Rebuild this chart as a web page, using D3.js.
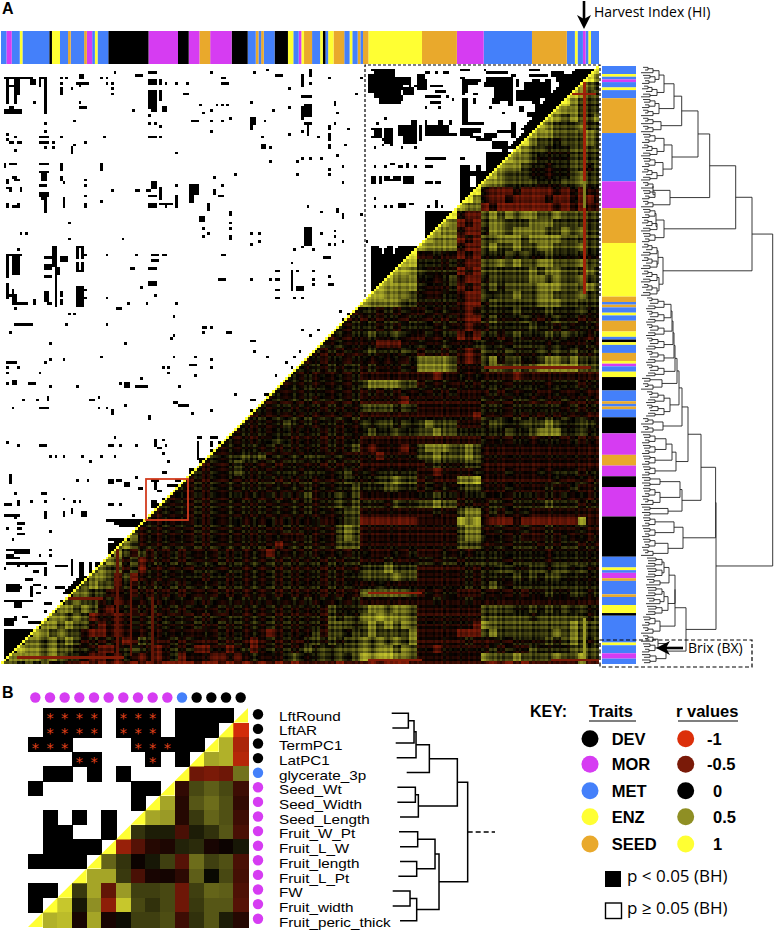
<!DOCTYPE html>
<html>
<head>
<meta charset="utf-8">
<script src="https://cdn.jsdelivr.net/npm/d3@7"></script>
<style>
  html, body { margin: 0; padding: 0; background: #fff; }
  svg { display: block; }
  text { font-family: "Open Sans", sans-serif; fill: #000; }
  .bold { font-family: "Liberation Sans", sans-serif; font-weight: bold; }
</style>
</head>
<body>
<script>
// trait classes along the clustered order, top to bottom of the side bar
var traitRuns = [
    ["MET",3],["ENZ",1],["MET",1],["MOR",1],["MET",2],["ENZ",1],["MET",3],["SEED",13],["MET",18],["MOR",10],
    ["SEED",13],["ENZ",20],["SEED",2],["MET",1],["SEED",1],["MET",2],["ENZ",1],["MET",2],["SEED",4],["ENZ",2],
    ["MET",1],["DEV",1],["ENZ",1],["MET",3],["SEED",3],["ENZ",1],["MOR",1],["MET",2],["ENZ",2],["DEV",5],
    ["MET",4],["SEED",1],["MET",1],["SEED",1],["MET",3],["DEV",6],["MOR",8],["SEED",4],["MOR",4],["DEV",4],
    ["MOR",11],["DEV",15],["MET",4],["ENZ",1],["MET",1],["MOR",2],["SEED",1],["MET",5],["SEED",1],["MET",3],
    ["ENZ",3],["DEV",1],["MET",10],["ENZ",1],["MET",3],["MOR",2],["MET",2]
];

// r values, one string per 3 rows, right aligned, digit 0..8 looked up in heatLevels
// groups after the first: ENZ, SEED, MOR, MET, SEED, mixed columns
var heatLevels = [-1,-.75,-.42,-.15,0,.15,.36,.55,.8];
var heatRows = [
    "8","86","765","7655","8 6555","76 6555","765 6556","7655 5655","76655 5565",
    "8 65545 5565","76 55444 5555","766 54444 5555","7665 44344 5545","76555 44344 5655","766555 54445 5655",
    "8 322232 22232 3233","86 322322 22322 3223","766 232222 22232 3233",
    "8 322 565656 65565 5555","76 232 566555 66655 5555","766 322 466566 66556 5655","7666 232 556665 66665 5555","76666 322 565565 56655 5655",
    "8 33433 232 444545 44544 4444","77 44434 322 556565 56655 5655","776 54444 232 555555 65665 5565","7666 44345 322 455555 66565 5655",
    "76666 43334 232 454555 56665 5565","776665 43344 322 545565 56655 5655","7666655 44444 322 455555 56665 5555",
    "3 4434343 34343 323 444454 44544 4544",
    "34 3434434 43434 322 454445 43454 4344",
    "434 4434344 44343 323 344444 54434 3443",
    "3434 4544543 34344 232 443454 44545 4434",
    "43433 3322233 43343 334 434344 44343 3343",
    "434343 4544454 34434 323 544544 45454 5445",
    "3434434 4343434 66665 323 564554 45665 6555",
    "43434344 3433343 66665 333 455454 56666 6555",
    "434343434 3333333 33233 434 333323 33333 3333",
    "3434343434 5666655 34343 343 444344 44344 4344",
    "43434443434 3434343 43434 333 343434 43343 3433",
    "343434343434 3333323 33333 333 434344 34334 3343",
    "4344343434343 5555454 33333 333 444344 44443 4344",
    "34343434343434 3333333 33333 332 434343 43434 3433",
    "434345434344343 5455454 56555 333 455445 55654 4554",
    "3434344343434343 4544544 55655 444 444544 56664 4544",
    "43434454343434344 3333333 33333 333 434344 34443 4343",
    "343443434343434345 3233323 56665 565 333333 33333 3333",
    "4344545343434443433 3323333 55655 565 333333 33333 3333",
    "34345443434443434344 3333333 34544 455 333333 33333 3333",
    "434345434344434443453 4344444 33233 334 333433 34344 4344",
    "3434343434434344343454 4455655 34333 667 333333 33343 3434",
    "43434343434343434343445 4445544 34343 455 333433 33433 4334",
    "343434344343434345344545 3333333 44544 344 434344 43434 3434",
    "4343434343434343434344545 4443544 55655 343 344344 44544 4344",
    "34343434343434343434343455 3333333 33433 566 343434 33333 3333",
    "434343434344343434343433455 2222222 33333 767 322232 22222 2733",
    "3434343434343434334343343565 3333333 33333 566 334334 33433 3433",
    "63434343434343434343334343565 3333333 33333 566 434343 33434 3434",
    "653434343434343434323434343555 3333333 33333 555 334344 43434 4343",
    "6535343434343434343243434343434 4333434 33343 434 444444 44344 4444",
    "65352343434343434343434343434344 3334333 44344 344 444344 44344 4444",
    "655352434343444344343434343434343 5556555 33333 343 445544 55455 4544",
    "6652523434344434434343434343434344 5555655 33333 343 444454 54554 4444",
    "56552434343434343434343434343434343 3343333 33333 343 454344 44444 4444",
    "665533434343434343434343434343434343 6666665 34344 333 434343 44544 5545",
    "5655342343434343434343434343434343434 3333333 33433 343 333333 33333 3333",
    "66565323434343434343434343434343435444 5665665 33333 333 555544 54545 4544",
    "665652332343434343434344343434343435454 6676665 33333 333 555555 45555 5545",
    "6656553232343434343433434343434343435554 5656565 33333 332 655555 55555 6555",
    "76565532232343434343343434343234343535545 5655556 33333 222 565555 55565 6555",
    "665656534343235433434333434323434334545455 6565656 33333 343 334344 44545 6545",
    "7665655443223454323434223323423434345454555 6566565 33233 333 343433 54444 5555",
    "66665654432232432323423332232343334543454545 7677665 33333 333 655565 55565 5755",
    "665656453323232323232222322323232323233333233 3232223 33333 333 323232 33333 3733"
];

// row and column deviations from the block value, digit 4 = none
var rowGrain = "4635472536 3746254637 5263746354 4725364635 3546274635 6253746254 4637254736 5364627354 3746354625 4635274636 5264736254 3746254635 6354726354 2746354625 4635374625 3645274635 5263746354 4736254637 2546375264 6354725364 4635274736 3546263746 462";
var colGrain = "4546354635 3546253746 5364736452 4635274635 6351726453 3725362714 4635473625 5364527364 3645273546 6253746354 4736254637 3546375264 5263746253 4637254736 3546374625 5374625364 4635273645 3746253647 5264736254 4637354625 3546274635 6354725361 462";

// single lines that stand out: col, row, width, height, r
var heatStreaks = [
    [217,5,1,38,-.7],[217,43,1,10,.45],[217,53,1,32,-.7],[217,206,1,16,.55],[212,10,10,1,-.65],
    [43,180,1,40,-.4],[48,190,1,30,-.4],[56,198,1,25,-.4],
    [137,196,20,1,-.6],[137,221,20,1,-.55],[205,221,18,1,-.5],[180,112,40,1,-.5],
    [20,198,18,1,-.45],[6,220,40,1,-.55]
];

// black cells p < 0.05: col, row, width, height (1 by default)
var sigRects = [
    [42,2],[50,3,3],[55,2,3],[78,2],[82,4,2],[82,6,3],[94,2],[99,1],[102,3,3],[112,3,1,5],
    [22,4],[24,4],[22,6],[29,3,2,2],[28,6,5],[29,7],[26,8],[22,8,1,3],[37,4],[39,4],[39,6],[41,6],[41,8],[41,10],
    [1,4,11],[11,5,2,2],[2,5,1,9],[5,5,2,6],[3,7,2],[5,11,1,3],[14,4,3],[16,4,1,14],[14,5,1,3],[12,13],
    [16,15],[16,17],[1,16,7,2],[3,15,2],[29,15,3],[29,13],[49,16],
    [55,5,3,2],[59,5,1,2],[61,6],[65,6],[69,6],[68,10,2],[55,9,3,7],[59,9,1,4],[60,15,2,2],[56,15,2,2],[55,18],
    [74,14],[75,17],[78,16],[80,14],[82,14],[84,14],[71,20,3],[78,20],[82,20],[85,19],[78,24],
    [93,13],[93,19,2,3],[93,22,1,2],[98,20],[101,16],[107,15],[107,8],[107,25],[112,15,1,5],[112,24],
    [27,20],[16,21],[55,21],[57,21],[59,22],[2,25],[2,27],[3,28],[5,26],[6,28,2],[4,28],[5,31],
    [16,24],[14,26,4],[14,28,4],[16,30],[19,30],[19,28],[22,26],[27,29],[31,28],[26,30,1,3],[38,26],
    [55,26,3],[59,26],[65,32],[97,26],[97,29,2,2],[100,30],[100,35],[110,35],[112,34],[110,40],[87,40],
    [1,36,1,2],[3,36,3],[14,36,4],[22,36,1,3],[37,36,1,3],[14,39,4],[15,40,2,3],[22,41,1,2],[23,43],[31,42],[31,44],
    [2,42,1,2],[4,41,2],[5,42,2],[3,45,1,2],[7,45,1,2],[2,45],[14,44,3],[14,47,4,2],[15,49,2],[16,50,1,5],
    [23,49,1,4],[31,48],[31,51,1,2],[37,50],[2,51,1,2],[4,52,3],[6,51],
    [41,46],[50,46,2],[54,46,2],[56,43,2,3],[55,48,3],[59,45,1,5],[55,51,3,2],[59,51,5],[61,52],[65,48,1,5],[65,44],
    [70,44,4,4],[70,48,2,3],[79,41],[82,44],[79,46,1,2],[81,48,2],[77,51,1,3],[74,56,2,2],[85,54,1,2],[85,58],[85,60],
    [75,60],[75,63],[77,62],[85,63,1,2],[25,58],[7,62],[9,62],[25,64],[45,64],[93,62],[96,62],[96,65],[93,66],
    [6,68],[2,70,6],[2,70,1,9],[4,71,3,7],[2,81,1,6],[3,85,2],[4,83,1,2],[4,85,2,4],[6,88,4],[12,87,1,2],
    [19,67,2,8],[16,71,4],[22,71,3,2],[16,74,3,2],[20,75,2,3],[16,78,3],[20,78,1,12],[16,84,2,4],[17,88,2],[22,84,1,2],[22,87,1,2],
    [28,67,3],[28,67,1,5],[30,67,1,5],[31,70],[28,73,1,3],[30,73,1,4],[28,76,3],[28,82,3,8],[31,83],[31,86],
    [39,70],[50,70],[48,75,2],[56,70,3],[60,70],[61,70],[56,72,3],[55,75,3],[82,70,2],[81,79,3],[55,80,3,2],[52,82],[57,85],
    [93,79],[100,79],[102,76,2],[102,79,2],[102,83,2],[102,86,2],[108,73],[109,68],[112,67],[108,76,1,8],[110,76],[110,82,3,2],[109,86],[112,86],
    [39,86],[47,88],[43,90,2],[54,88],[65,88],[64,93],[5,90],[25,92],[27,92],[6,96,6],[5,96],[24,96],[39,96],[3,99],
    [75,97,2],[78,97],[75,99],[84,99,2],[63,101],[93,102],[112,98],
    // box over the first three clusters
    [138,1,9],[139,2,8,2],[137,5,4,3],[141,4,9,5],[152,4,1,4],[155,3,3,6],[154,7,2],[139,9,6,3],[139,10,10],[141,12,8,2],
    [137,3,10,2],[137,8,12,2],[141,11,9,2],[148,4,5,3],[150,8,4,3],
    [158,2,2],[162,2],[165,2,2],[158,5,1,4],[160,7,5],[162,9,4],[158,11,6],[160,13,4],[166,11],[168,12],[158,15],[163,15],
    [171,1,4],[171,4,2],[172,5,6,2],[172,7,2,3],[178,5],[172,10],[176,10,2],[172,12,2,3],[176,12,1,2],[180,1],
    [181,2,8],[184,4,7,9],[180,6,10,2],[190,3,2],[183,12,3,2],[192,5,1,3],[189,12,2,3],[182,15],[187,17],
    [197,1,4],[197,3,7],[205,2,5,2],[198,5,3,9],[203,5,2,10],[207,3,6,3],[208,6,1,6],[210,7,2,2],[212,4,6,2],[204,14,3,4],[207,8,3,3],[211,10,2,6],
    [181,4,3,3],[195,6,3,7],[199,14,3,2],[192,9,3,4],[205,10,2,6],[214,6,3,3],[201,6,2,6],[193,15,2,2],[196,17,3,2],[204,19,3,2],[200,20,3,2],
    [140,21],[138,23,4],[139,24,3,3],[138,26],[142,27],[143,23,3,6],[148,22,5,4],[150,26,4,3],[153,20,2,9],[156,22,1,6],
    [139,30],[142,29],[145,29],[149,30],[154,30],[143,19],
    [158,22,9,4],[158,20,1,2],[163,20,2,2],[167,20,1,2],[167,25,3],
    [172,15,2,6],[172,21,8],[171,23,8,2],[171,25,5],[175,26,4],[177,27,6],[180,25,5,2],[183,28,6,3],[185,24,5],[190,21,2,6],[187,31,2,2],[184,33],
    [197,23,2,4],[195,26,2],[192,29,3],
    [139,37],[143,37],[145,36,2],[148,37,2],[151,36,1,2],[154,37],[158,34,2],[160,34,6],[158,37,3],[171,34,2],[171,37,4,2],[177,37,2,2],
    [138,41,2,3],[141,41,1,3],[143,41,2],[146,41,3,2],[150,41,4,3],[143,42,3],[158,43,3],[162,43,2],
    [139,49],[139,52],[143,52],[145,52],[148,51,3,2],[152,51,2],[159,52],[162,50,1,3],[164,52],
    [181,32,12,7],[171,39,4,14],[175,39,2,2],[175,45,2,8],[177,39,6,14],[158,54,12,12],
    [138,68,4,18],[142,70,15,16],[138,67,3],[144,67,2],[148,67,8],[143,68,3,2],[147,68,10,2],
    // columns left of the box
    [115,1,1,3],[122,4],[134,4],[115,6],[132,10],[112,11,4],[124,13,1,2],[125,17],[113,14,3,5],[112,18],
    [113,21,3],[114,22,1,4],[124,21],[122,22,1,2],[129,23],[118,26],[122,25,1,3],[122,29,1,2],[128,29],[115,34],[119,34],[125,33],
    [127,37],[122,38],[122,40],[127,43],[114,52],[119,54],[125,53,1,2],[127,55,1,2],[134,55],[113,60,3,7],[119,62],[124,61],[124,63],
    [122,66],[124,66],[127,65],[136,65],[116,68],[120,71,3],[116,76],[116,79],[116,81],[122,78],[122,81,2],
    [126,91],[129,92],[127,94],[126,96],[118,98],[115,100],[121,102],
    // lower half
    [18,103],[46,103],[64,100],[94,102],[94,106],[111,106],[37,108],[18,109],[23,109],[16,110],[2,110,4],[2,112],[6,112],[2,114],[14,114],
    [64,108],[72,108],[78,109],[70,111,3],[78,112],[60,112],[62,112],[62,114],[72,115],[99,108],[106,110],[109,108],[108,112],[111,112],[102,115],[108,115],
    [2,118],[4,117,2,2],[10,118,3],[18,119],[28,119],[44,118],[46,118,2,2],[50,119,5],[52,116],[66,119],[105,118],[103,120],
    [8,124],[13,124],[17,123,1,2],[33,124,2],[36,123],[87,122],[93,124,2],[98,122,3],[98,124],
    [4,127],[14,127,4],[36,127],[39,127],[46,126],[41,128,1,2],[64,125,2],[66,126,4],[71,129],[78,128],[55,130,1,2],[93,128,1,3],[89,133,2],[87,136],
    [2,140],[6,141],[14,141,3],[42,138],[40,141,2],[44,141],[50,141],[18,145],[20,145],[23,145],[30,145],[37,145],[33,147],[42,145],[62,147],
    [57,139,1,3],[58,142,2],[60,144],[60,139],[61,141],[60,151,2],[73,138,2],[73,140,1,6],[78,138,3],[78,140,1,2],[80,142],[78,143,2],[81,140,2,2],
    [73,146,4],[74,147,2,2],[70,150,3,3],[3,152,1,4],[28,154],[32,154],[50,153],[40,154,2,2],[43,154,2],[46,155,2,2],[51,157,2],[5,159],[15,159,2],
    // inside the red box
    [56,154,3],[57,155,1,3],[62,156,5],[58,158,2],[60,161,2],[62,160],[56,162,2],[56,163,4,2],[65,154,2],
    [1,163,3],[6,162,1,2],[11,162],[16,162],[23,161],[27,162],[29,162],[40,163,2],[44,163],[26,165,1,2],[49,167],[16,166,1,3],[23,166,1,2],[30,166,2,2],
    [1,167,6],[5,168],[6,170,3],[6,172,2],[2,172],[6,174,3],[39,169,14],[42,170,10],[44,171,8],[18,173],[4,176],
    [40,176,6],[42,177,3],[40,178,6,3],[40,181,3],[2,180,9],[5,181,6],[2,182,3],[8,181,3],[14,182],[18,180],[18,182],[2,183,5],[2,185,15],
    [20,186,5],[26,184,1,6],[29,185,2,6],[33,185,1,4],[35,185,2,2],[36,186,1,4],[36,185,3],[34,190],[16,187,1,3],[12,188,2],[9,191,3],[1,187],[6,186],[9,186],
    [2,193,5,3],[7,194],[11,194,1,4],[12,193,3],[13,196,2],[16,194],[20,194,4],[26,194,4],[26,195,3,3],
    [1,199,11],[5,200,3,2],[16,200,3],[22,199,1,2],[16,203],[20,203],
    [1,206,4,3],[5,205,1,2],[10,207,6],[8,205],[9,205],[1,210,6,2],[6,210,9,2],[1,212,10,10]
];

// rows next to the diagonal that are solid black: first row, last row, width
var sigDiagBands = [[1,18,7],[19,23,5],[24,30,3],[176,178,2],[190,196,3]];

// dendrogram of panel A, [merge height, upper, lower], a plain number is a leaf tip
var a2 = [12,4,6], a3 = [15,[10,5,7],3], a4 = [17,[12,5,6],[11,7,4]], a5 = [19,[14,[10,6,4],8],[12,5,3]];
var b3 = [22,[16,9,11],8], b4 = [24,[18,9,10],[17,10,8]], b5 = [26,[20,[14,9,11],12],[17,10,8]];
var treeMix = [26,[21,a3,a4],a5];
var treeTop = [114,
    [97.7,
        [71.7,
            [60,
                [43.7, [36,treeMix,[21,a4,a3]], [23,a3,a3]],
                [34,[26,a4,a5],[25,a4,a5]]],
            [32,[15,a3,a4],a3]],
        [26,[18,a4,a5],a4]],
    [25,[20,a5,a5],[21,a5,a5]]];
var treeLad = [37,[36,[35,[34,[33,b5,b5],b5],b5],b5],b5];
var treeLow = [78,
    [77.6,
        [63,
            [50,
                [44,[41,[39,treeLad,[24,a2,a3]],[32,b5,b5]],[25,a3,a3]],
                [38,[34,[28,a4,a4],a4],a4]],
            [44,[42,[22,a2,a2],[22,a4,a3]],[30,a2,a2]]],
        [45,[36,a4,a4],[30,a4,a3]]],
    [48,
        [37,[37,[31,[26,b4,b4],b3],[30,[26,b4,b3],b4]],[22,a4,a3]],
        [28,[20,a3,a4],[18,a2,a2]]]];
var treeA = [134.7,treeTop,treeLow];

// panel B
var bNames = ["LftRound","LftAR","TermPC1","LatPC1","glycerate_3p","Seed_Wt","Seed_Width","Seed_Length","Fruit_W_Pt","Fruit_L_W","Fruit_length","Fruit_L_Pt","FW","Fruit_width","Fruit_peric_thick"];
var bTraits = ["DEV","DEV","DEV","DEV","MET","MOR","MOR","MOR","MOR","MOR","MOR","MOR","MOR","MOR","MOR"];
var bSig = [
    "01111011101111","0111101110111","111000011111","00011000101","0110101000",
    "100000011","00000001","0101010","011001","01111","1111","000","11","1",""
];
var bStars = [
    [0,1],[0,2],[0,3],[0,4],[0,6],[0,7],[0,8],[1,1],[1,2],[1,3],[1,4],[1,6],[1,7],[1,8],
    [2,0],[2,1],[2,2],[2,7],[2,8],[2,9],[3,3],[3,4],[3,8]
];
// r values from the cell right of the diagonal to the last column
var bR = [
    [],[-.95],[.65,-.75],[.6,.65,-.8],[-.45,-.5,-.45,.4],
    [-.2,.25,.33,.25,-.25],[.6,-.15,.3,.38,.28,-.2],[.6,.55,-.15,.2,.35,.28,-.25],
    [.18,.1,.1,-.3,.1,.17,.3,-.3],[-.65,-.35,-.15,-.12,.12,.15,-.1,-.05,.08],
    [.35,.18,-.05,.08,.22,-.35,.38,.22,.28,-.3],[.6,.6,.2,-.3,-.1,-.08,-.18,.33,.03,.25,-.28],
    [.2,.6,-.4,.55,.22,.22,.25,-.45,.22,.35,.33,-.32],[.75,.08,.5,-.6,.75,.25,.17,.25,-.45,.2,.3,.3,-.35],
    [.65,.7,-.1,.6,-.1,.05,.22,.22,.27,-.25,.17,.3,.1,-.15]
];
// dendrogram of panel B
var treeB = [653,
    [622,
        [538,[498,[492,[475,425,427],437],440],470],
        [505,[496,442,442],450]],
    [567,
        [555,[503,447,450],[500,450,445]],
        [500,[480,428,428],450]]];

var keyTraits = ["DEV","MOR","MET","ENZ","SEED"];
var traitColors = ["#000000","#d63cf2","#4480fa","#ffff33","#e9a92c"];
var keyR = [-1,-.5,0,.5,1];
var keyRLabels = ["-1","-0.5","0","0.5","1"];

var width = 774, height = 938;
var N = 223;

var svg = d3.select("body").append("svg")
    .attr("width", width)
    .attr("height", height);

var traitColor = d3.scaleOrdinal(keyTraits, traitColors);
var rColor = d3.scaleLinear()
    .domain([-1,-.5,0,.5,1])
    .range(["#dc2f0a","#7a1a08","#000000","#8f8f24","#ffff33"])
    .clamp(true);

var x = d3.scaleBand().domain(d3.range(N)).range([1,599]);
var y = d3.scaleBand().domain(d3.range(N)).range([66,664]);
var cw = x.bandwidth(), ch = y.bandwidth();

var heatGrid = heatRows.map(function(s) {
    return s.replace(/ /g,"").padStart(75,"4");
});
var rowDev = rowGrain.replace(/ /g,"");
var colDev = colGrain.replace(/ /g,"");
function heatValue(r, c) {
    var s = heatGrid[Math.min(74, Math.floor(r / 3))];
    var v = heatLevels[+s[Math.min(74, Math.floor(c * 75 / N))]];
    return v + (+rowDev[r] - 4) * .05 + (+colDev[c] - 4) * .035;
}

// heat cells below the diagonal
var heatCells = [];
d3.range(N).forEach(function(r) {
    for (var c = N - r; c < N; c++) {
        heatCells.push({r:r, c:c, w:1, v:heatValue(r, c)});
    }
});
heatStreaks.forEach(function(d) {
    for (var r = d[1]; r < d[1] + d[3]; r++) {
        var c0 = Math.max(d[0], N - r), c1 = Math.min(d[0] + d[2], N);
        if (c1 > c0 && r < N) heatCells.push({r:r, c:c0, w:c1 - c0, v:d[4]});
    }
});
d3.range(N).forEach(function(r) {
    heatCells.push({r:r, c:N - 1 - r, w:1, v:1});
});

svg.append("g").attr("shape-rendering","crispEdges").selectAll("rect")
    .data(heatCells)
    .enter().append("rect")
    .attr("x", function(d) { return x(d.c); })
    .attr("y", function(d) { return y(d.r); })
    .attr("width", function(d) { return d.w * cw; })
    .attr("height", ch)
    .attr("fill", function(d) { return rColor(d.v); });

// significant cells above the diagonal
var sigCells = [];
sigRects.forEach(function(d) {
    var w = d[2] || 1, h = d[3] || 1;
    for (var r = d[1]; r < d[1] + h; r++) {
        var c1 = Math.min(d[0] + w, N - 1 - r);
        if (c1 > d[0]) sigCells.push({r:r, c:d[0], w:c1 - d[0]});
    }
});
sigDiagBands.forEach(function(d) {
    for (var r = d[0]; r <= d[1]; r++) {
        sigCells.push({r:r, c:N - 1 - r - d[2], w:d[2]});
    }
});
svg.append("g").attr("shape-rendering","crispEdges").selectAll("rect")
    .data(sigCells)
    .enter().append("rect")
    .attr("x", function(d) { return x(d.c); })
    .attr("y", function(d) { return y(d.r); })
    .attr("width", function(d) { return d.w * cw; })
    .attr("height", ch)
    .attr("fill", "#000");

// trait bars
var traitBars = [], pos = 0;
traitRuns.forEach(function(d) {
    traitBars.push({t:d[0], start:pos, n:d[1]});
    pos += d[1];
});
svg.append("g").selectAll("rect")
    .data(traitBars)
    .enter().append("rect")
    .attr("x", function(d) { return x(N - d.start - d.n); })
    .attr("y", 31)
    .attr("width", function(d) { return d.n * cw; })
    .attr("height", 33)
    .attr("fill", function(d) { return traitColor(d.t); });
svg.append("g").selectAll("rect")
    .data(traitBars)
    .enter().append("rect")
    .attr("x", 602)
    .attr("y", function(d) { return y(d.start); })
    .attr("width", 34)
    .attr("height", function(d) { return d.n * ch; })
    .attr("fill", function(d) { return traitColor(d.t); });

// dendrogram helper, walks the nested tree and collects the elbows
function treeLinks(tree, xs, ys) {
    var links = [], i = 0;
    function walk(n) {
        if (typeof n === "number") {
            return {x:xs(n), y:ys(i++)};
        }
        var a = walk(n[1]), b = walk(n[2]), mx = xs(n[0]);
        links.push("M" + a.x + "," + a.y + "H" + mx + "V" + b.y + "H" + b.x);
        return {x:mx, y:(a.y + b.y) / 2};
    }
    var root = walk(tree);
    return {links:links, root:root};
}

var dxA = d3.scaleLinear().domain([0,134.7]).range([638,772.7]);
var leafA = function(i) { return y(i) + ch / 2; };
svg.append("g").selectAll("path")
    .data(treeLinks(treeA, dxA, leafA).links)
    .enter().append("path")
    .attr("d", function(d) { return d; })
    .attr("fill", "none")
    .attr("stroke", "#222")
    .attr("stroke-width", 0.9);

// dashed boxes and the red box
svg.append("path")
    .attr("d", "M365,297V65H600V297")
    .attr("fill", "none").attr("stroke", "#fff").attr("stroke-width", 1.4);
svg.append("path")
    .attr("d", "M365,297V65H600V297")
    .attr("fill", "none").attr("stroke", "#000").attr("stroke-width", 1.2)
    .attr("stroke-dasharray", "3,2");
svg.append("rect")
    .attr("x", 600).attr("y", 640).attr("width", 152).attr("height", 27)
    .attr("fill", "none").attr("stroke", "#000").attr("stroke-width", 1.2)
    .attr("stroke-dasharray", "4,2.5");
svg.append("rect")
    .attr("x", 146).attr("y", 479).attr("width", 42).attr("height", 41)
    .attr("fill", "none").attr("stroke", "#d23c1e").attr("stroke-width", 1.8);

// arrows
svg.append("path").attr("d", "M584,1V20").attr("stroke", "#000").attr("stroke-width", 2.6);
svg.append("path").attr("d", "M577,15L584,29L591,15L584,19Z").attr("fill", "#000");
svg.append("path").attr("d", "M683,648H665").attr("stroke", "#000").attr("stroke-width", 2.6);
svg.append("path").attr("d", "M670,641L656,648L670,655L666,648Z").attr("fill", "#000");

svg.append("text").attr("x", 594).attr("y", 17).style("font-size", "14px").text("Harvest Index (HI)");
svg.append("text").attr("x", 688).attr("y", 653).style("font-size", "14px").text("Brix (BX)");

svg.append("text").attr("class", "bold").attr("x", 2).attr("y", 14).style("font-size", "16px").text("A");
svg.append("text").attr("class", "bold").attr("x", 2).attr("y", 698).style("font-size", "16px").text("B");

// panel B
var bx = d3.scaleBand().domain(d3.range(15)).range([28,248]);
var by = d3.scaleBand().domain(d3.range(15)).range([708,927]);
var bw = bx.bandwidth(), bh = by.bandwidth();

var bCells = [], bBlack = [];
bR.forEach(function(row, r) {
    row.forEach(function(v, i) {
        bCells.push({r:r, c:15 - r + i, v:v});
    });
});
bSig.forEach(function(s, r) {
    s.split("").forEach(function(ch2, c) {
        if (ch2 === "1") bBlack.push({r:r, c:c});
    });
});
svg.append("g").attr("shape-rendering","crispEdges").selectAll("rect")
    .data(bCells)
    .enter().append("rect")
    .attr("x", function(d) { return bx(d.c); })
    .attr("y", function(d) { return by(d.r); })
    .attr("width", bw + .5)
    .attr("height", bh + .5)
    .attr("fill", function(d) { return rColor(d.v); });
svg.append("g").attr("shape-rendering","crispEdges").selectAll("rect")
    .data(bBlack)
    .enter().append("rect")
    .attr("x", function(d) { return bx(d.c); })
    .attr("y", function(d) { return by(d.r); })
    .attr("width", bw + .5)
    .attr("height", bh + .5)
    .attr("fill", "#000");
// yellow half cells on the diagonal
svg.append("g").selectAll("path")
    .data(d3.range(15))
    .enter().append("path")
    .attr("d", function(r) {
        var c = 14 - r;
        return "M" + (bx(c) + bw) + "," + by(r) + "V" + (by(r) + bh) + "H" + bx(c) + "Z";
    })
    .attr("fill", "#ffff33");
svg.append("g").selectAll("text")
    .data(bStars)
    .enter().append("text")
    .attr("x", function(d) { return bx(d[1]) + bw / 2; })
    .attr("y", function(d) { return by(d[0]) + bh / 2 + 8; })
    .attr("text-anchor", "middle")
    .style("font-family", "'DejaVu Sans', sans-serif")
    .style("font-size", "14.5px")
    .style("fill", "#e2421a")
    .text("*");

// dots along the top and the side
svg.append("g").selectAll("circle")
    .data(bTraits)
    .enter().append("circle")
    .attr("cx", function(d, i) { return bx(14 - i) + bw / 2; })
    .attr("cy", 697.5)
    .attr("r", 5.2)
    .attr("fill", function(d) { return traitColor(d); });
svg.append("g").selectAll("circle")
    .data(bTraits)
    .enter().append("circle")
    .attr("cx", 258)
    .attr("cy", function(d, i) { return by(i) + bh / 2 - 1; })
    .attr("r", 5.2)
    .attr("fill", function(d) { return traitColor(d); });

var labelY = d3.scaleLinear().domain([0,14]).range([720.7,926.7]);
svg.append("g").selectAll("text")
    .data(bNames)
    .enter().append("text")
    .attr("transform", function(d, i) { return "translate(279," + labelY(i) + ") scale(1.2,1)"; })
    .style("font-family", "'Liberation Sans', sans-serif")
    .style("font-size", "12.7px")
    .text(function(d) { return d; });

var dxB = d3.scaleLinear().domain([425,735]).range([391.7,495]);
var leafB = d3.scaleLinear().domain([0,14]).range([713.3,920.7]);
var treeBOut = treeLinks(treeB, dxB, leafB);
svg.append("g").selectAll("path")
    .data(treeBOut.links)
    .enter().append("path")
    .attr("d", function(d) { return d; })
    .attr("fill", "none")
    .attr("stroke", "#000")
    .attr("stroke-width", 1.5);
svg.append("line")
    .attr("x1", treeBOut.root.x).attr("x2", dxB(735))
    .attr("y1", treeBOut.root.y).attr("y2", treeBOut.root.y)
    .attr("stroke", "#000").attr("stroke-width", 1.5)
    .attr("stroke-dasharray", "5,3");

// key
function keyText(tx, ty, s, size) {
    svg.append("text").attr("class", "bold").attr("x", tx).attr("y", ty)
        .style("font-size", size + "px").text(s);
}
keyText(530, 717, "KEY:", 16);
keyText(589, 717, "Traits", 16.5);
keyText(676, 717, "r values", 16.5);
svg.append("line").attr("x1", 589).attr("x2", 636).attr("y1", 721).attr("y2", 721).attr("stroke", "#000").attr("stroke-width", 1.2);
svg.append("line").attr("x1", 678).attr("x2", 738).attr("y1", 721).attr("y2", 721).attr("stroke", "#000").attr("stroke-width", 1.2);

var keyY = [738.7,764.3,790.7,816.7,844];
svg.append("g").selectAll("circle")
    .data(keyTraits)
    .enter().append("circle")
    .attr("cx", 590)
    .attr("cy", function(d, i) { return keyY[i]; })
    .attr("r", 8.5)
    .attr("fill", function(d) { return traitColor(d); });
svg.append("g").selectAll("circle")
    .data(keyR)
    .enter().append("circle")
    .attr("cx", 685.7)
    .attr("cy", function(d, i) { return keyY[i]; })
    .attr("r", 8.5)
    .attr("fill", function(d) { return rColor(d); });
keyTraits.forEach(function(d, i) { keyText(611.7, keyY[i] + 6, d, 16.5); });
keyRLabels.forEach(function(d, i) { keyText(i < 2 ? 707 : 713, keyY[i] + 6, d, 16.5); });

svg.append("rect").attr("x", 605).attr("y", 871).attr("width", 16).attr("height", 16).attr("fill", "#000");
svg.append("rect").attr("x", 605.5).attr("y", 903).attr("width", 16).attr("height", 15.5)
    .attr("fill", "#fff").attr("stroke", "#000").attr("stroke-width", 1.4);
svg.append("text").attr("x", 627).attr("y", 882).style("font-size", "17px").text("p < 0.05 (BH)");
svg.append("text").attr("x", 627).attr("y", 914).style("font-size", "17px").text("p \u2265 0.05 (BH)");
</script>
</body>
</html>
